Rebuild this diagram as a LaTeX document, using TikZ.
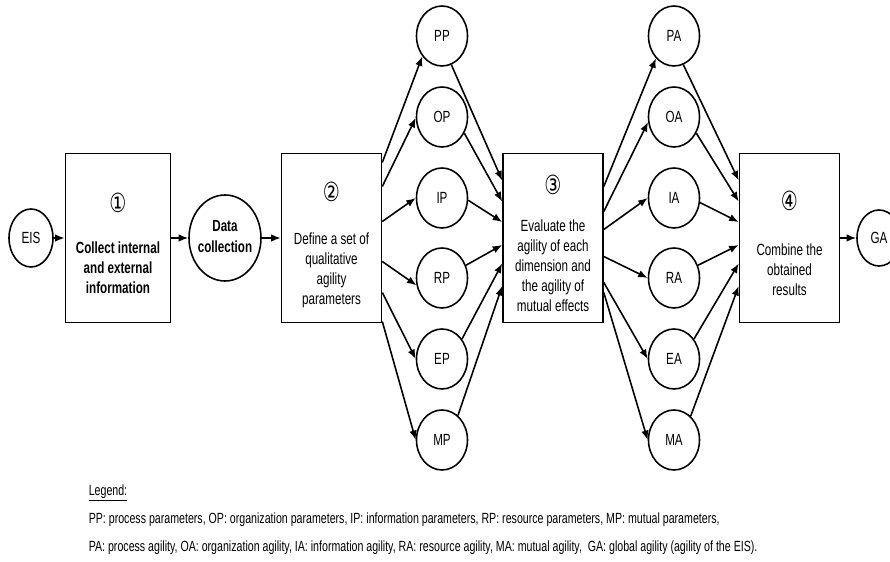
\documentclass[tikz,border=0pt]{standalone}
\usepackage{fontspec}
\setmainfont{Liberation Sans}[FakeStretch=0.72]
\newfontfamily\circfont{DejaVu Sans}[FakeStretch=0.72]
\newcommand{\stepno}[1]{{\circfont\fontsize{15}{15}\selectfont #1}}
\usetikzlibrary{shapes.geometric,positioning,arrows.meta}

\begin{document}
\begin{tikzpicture}[auto, node distance=2cm, >={Latex[length=1.9mm,width=1.5mm]}, line width=0.9pt]
        \tikzstyle{block} = [draw, rectangle, minimum width=2cm, minimum height=3.38cm, inner sep=0pt, font=\fontsize{9.2}{11.4}\selectfont]
        \tikzstyle{param} = [draw, ellipse, minimum width=1.02cm, minimum height=1.2cm, inner sep=0pt, font=\fontsize{9.2}{11.4}\selectfont]
        \tikzstyle{legend} = [anchor=west, inner sep=0pt, font=\fontsize{8.4}{10}\selectfont]

        \useasboundingbox (-0.62,4.76) rectangle (17.18,-6.48);

        \node [param, minimum width=0.88cm, minimum height=1.16cm] (eis) at (0,0) {EIS};
        \node [block, right of=eis, node distance=1.74cm] (collect) {%
          \begin{tabular}{c}
            \\[-2pt]
            \stepno{①}\\[12pt]
            \textbf{Collect internal}\\
            \textbf{and external}\\
            \textbf{information}
          \end{tabular}
        };
        \node [param, right of=collect, node distance=2.14cm, minimum width=1.44cm, minimum height=1.72cm, inner sep=-2pt] (data) {%
          \begin{tabular}{@{}c@{}}
            \textbf{Data}\\
            \textbf{collection}
          \end{tabular}
        };
        \node [block, right of=data, node distance=2.13cm] (define) {%
          \begin{tabular}{c}
            \\[-2pt]
            \stepno{②}\\[13pt]
            Define a set of\\
            qualitative\\
            agility\\
            parameters
          \end{tabular}
        };
        \node [block, right of=define, node distance=4.43cm] (eval) {%
          \begin{tabular}{c}
            \\[-2pt]
            \stepno{③}\\[10pt]
            Evaluate the\\
            agility of each\\
            dimension and\\
            the agility of\\
            mutual effects
          \end{tabular}
        };
        \node [block, right of=eval, node distance=4.73cm] (combine) {%
          \begin{tabular}{c}
            \\[-2pt]
            \stepno{④}\\[14pt]
            Combine the\\
            obtained\\
            results
          \end{tabular}
        };
        \node [param, right of=combine, node distance=1.79cm, minimum width=0.88cm, minimum height=1.12cm] (ga) {GA};

        % parameters
        \coordinate [right of=define, node distance=2.21cm] (pmid);
        \node [param, above of=pmid, node distance=0.8cm] (ip) {IP};
        \node [param, above of=ip, node distance=1.62cm] (op) {OP};
        \node [param, above of=op, node distance=1.62cm] (pp) {PP};
        \node [param, below of=pmid, node distance=0.8cm] (rp) {RP};
        \node [param, below of=rp, node distance=1.62cm] (ep) {EP};
        \node [param, below of=ep, node distance=1.62cm] (mp) {MP};

        % agilities
        \coordinate [right of=eval, node distance=2.42cm] (amid);
        \node [param, above of=amid, node distance=0.8cm] (ia) {IA};
        \node [param, above of=ia, node distance=1.62cm] (oa) {OA};
        \node [param, above of=oa, node distance=1.62cm] (pa) {PA};
        \node [param, below of=amid, node distance=0.8cm] (ra) {RA};
        \node [param, below of=ra, node distance=1.62cm] (ea) {EA};
        \node [param, below of=ea, node distance=1.62cm] (ma) {MA};

        \draw [->] (eis) -- (collect);
        \draw [->] (collect) -- (data);
        \draw [->] (data) -- (define);
        \draw [->] (combine) -- (ga);

        \draw [->] ([yshift=1.51cm]define.east) -- (pp.226);
        \draw [->] ([yshift=1.03cm]define.east) -- (op.182);
        \draw [->] ([yshift=0.33cm]define.east) -- (ip.west);
        \draw [->] ([yshift=-0.47cm]define.east) -- (rp.196);
        \draw [->] ([yshift=-1.09cm]define.east) -- (ep.west);
        \draw [->] ([yshift=-1.67cm]define.east) -- (mp.west);

        \draw [->] (pp.288) -- ([yshift=1.15cm]eval.west);
        \draw [->] (op.324) -- ([yshift=0.73cm]eval.west);
        \draw [->] (ip.355) -- ([yshift=0.32cm]eval.west);
        \draw [->] (rp.28) -- ([yshift=-0.14cm]eval.west);
        \draw [->] (ep.45) -- ([yshift=-0.51cm]eval.west);
        \draw [->] (mp.57) -- ([yshift=-0.96cm]eval.west);

        \draw [->] ([yshift=1.03cm]eval.east) -- (pa.231);
        \draw [->] ([yshift=0.53cm]eval.east) -- (oa.191);
        \draw [->] ([yshift=0.17cm]eval.east) -- (ia.west);
        \draw [->] ([yshift=-0.37cm]eval.east) -- (ra.west);
        \draw [->] ([yshift=-0.89cm]eval.east) -- (ea.west);
        \draw [->] ([yshift=-1.09cm]eval.east) -- (ma.west);

        \draw [->] (pa.288) -- ([yshift=1.15cm]combine.west);
        \draw [->] (oa.324) -- ([yshift=0.73cm]combine.west);
        \draw [->] (ia.350) -- ([yshift=0.32cm]combine.west);
        \draw [->] (ra.28) -- ([yshift=-0.14cm]combine.west);
        \draw [->] (ea.45) -- ([yshift=-0.51cm]combine.west);
        \draw [->] (ma.55) -- ([yshift=-0.96cm]combine.west);

        % legend
        \node [legend] (legtitle) at (1.14,-5.1) {\underline{Legend:}};
        \node [legend] (legparam) at (1.14,-5.64) {PP: process parameters, OP: organization parameters, IP: information parameters, RP: resource parameters, MP: mutual parameters,};
        \node [legend] (legagil) at (1.14,-6.2) {PA: process agility, OA: organization agility, IA: information agility, RA: resource agility, MA: mutual agility,\ \ GA: global agility (agility of the EIS).};
    \end{tikzpicture}
\end{document}
